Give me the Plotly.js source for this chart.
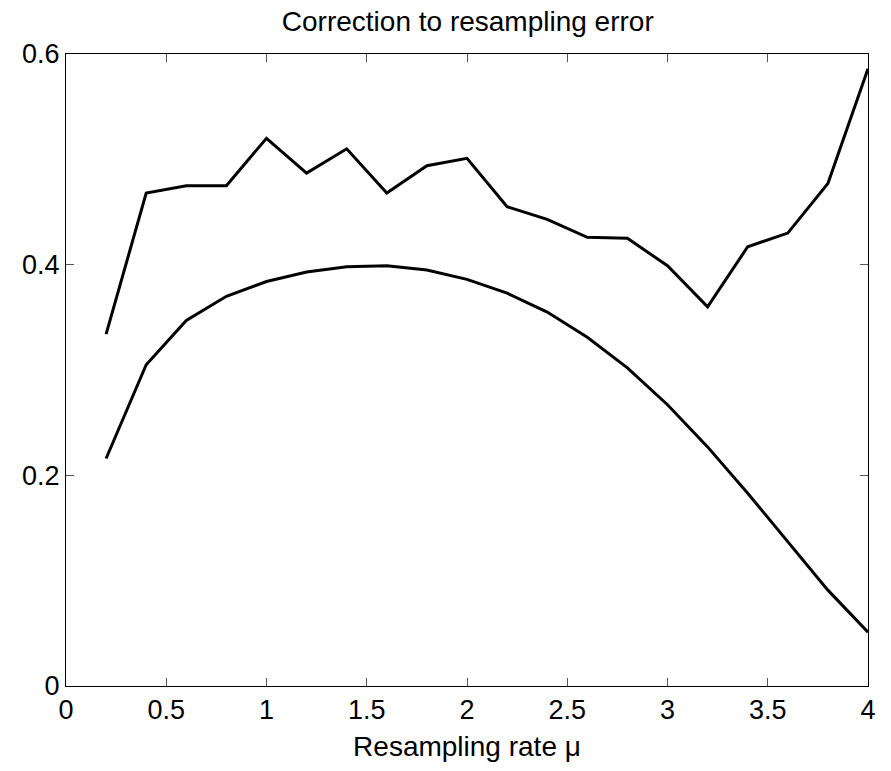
<!DOCTYPE html>
<html>
<head>
<meta charset="utf-8">
<script src="https://cdn.plot.ly/plotly-3.0.1.min.js"></script>
<style>html,body{margin:0;padding:0;background:#fff;}#chart{width:891px;height:771px;}</style>
</head>
<body>
<div id="chart"></div>
<script>
const rate = [0.2, 0.4, 0.6, 0.8, 1.0, 1.2, 1.4, 1.6, 1.8, 2.0, 2.2, 2.4, 2.6, 2.8, 3.0, 3.2, 3.4, 3.6, 3.8, 4.0];
const upperSeries = [0.334, 0.468, 0.475, 0.475, 0.520, 0.487, 0.510, 0.468, 0.494, 0.501, 0.455, 0.443, 0.426, 0.425, 0.399, 0.360, 0.417, 0.430, 0.477, 0.586];
const lowerSeries = [0.216, 0.305, 0.347, 0.370, 0.384, 0.393, 0.398, 0.399, 0.395, 0.386, 0.373, 0.355, 0.331, 0.302, 0.267, 0.227, 0.183, 0.137, 0.091, 0.051];
const xTicks = [0, 0.5, 1, 1.5, 2, 2.5, 3, 3.5, 4];
const xTickLabels = ['0', '0.5', '1', '1.5', '2', '2.5', '3', '3.5', '4'];
const yTicks = [0, 0.2, 0.4, 0.6];
const yTickLabels = ['0', '0.2', '0.4', '0.6'];

const lineStyle = {color: '#000', width: 3};
const traces = [
  {x: rate, y: upperSeries, mode: 'lines', line: lineStyle, showlegend: false, hoverinfo: 'skip'},
  {x: rate, y: lowerSeries, mode: 'lines', line: lineStyle, showlegend: false, hoverinfo: 'skip'}
];
const fam = 'Liberation Sans, Arial, sans-serif';
const axisCommon = {
  showgrid: false, zeroline: false, showline: true, linecolor: '#000', linewidth: 1,
  mirror: 'allticks', ticks: 'inside', ticklen: 8, tickwidth: 1, tickcolor: '#555',
  tickfont: {family: fam, size: 27, color: '#000'}
};
const layout = {
  width: 891, height: 771,
  margin: {l: 66, r: 23, t: 54, b: 85},
  paper_bgcolor: '#fff', plot_bgcolor: '#fff',
  font: {family: fam, color: '#000'},
  title: {text: 'Correction to resampling error', font: {family: fam, size: 28, color: '#000'}, x: 0.525, xanchor: 'center', yref: 'container', y: 0.972, yanchor: 'middle'},
  xaxis: Object.assign({}, axisCommon, {
    range: [0, 4], tickvals: xTicks, ticktext: xTickLabels,
    title: {text: 'Resampling rate μ', font: {family: fam, size: 28, color: '#000'}, standoff: 11}
  }),
  yaxis: Object.assign({}, axisCommon, {
    range: [0, 0.6], tickvals: yTicks, ticktext: yTickLabels
  })
};
Plotly.newPlot('chart', traces, layout, {staticPlot: true, displayModeBar: false});
</script>
</body>
</html>
